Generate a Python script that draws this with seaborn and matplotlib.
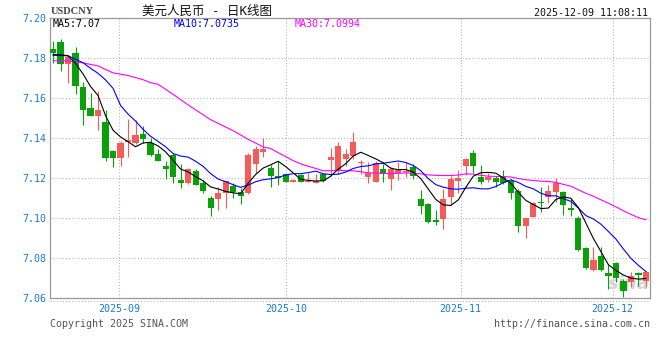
import numpy as np
import pandas as pd
import matplotlib
matplotlib.use("Agg")
import matplotlib.pyplot as plt
import seaborn as sns
from matplotlib.lines import Line2D

# daily USDCNY candles (oldest first)
opens = [7.1847, 7.1880, 7.1773, 7.1827, 7.1657, 7.1552, 7.1513, 7.1482, 7.1338, 7.1303,
         7.1383, 7.1378, 7.1422, 7.1377, 7.1322, 7.1263, 7.1317, 7.1192, 7.1178, 7.1238,
         7.1175, 7.1102, 7.1097, 7.1125, 7.1162, 7.1132, 7.1127, 7.1272, 7.1332, 7.1253,
         7.1212, 7.1220, 7.1183, 7.1217, 7.1183, 7.1178, 7.1222, 7.1292, 7.1243, 7.1298,
         7.1313, 7.1277, 7.1208, 7.1182, 7.1247, 7.1197, 7.1228, 7.1232, 7.1257, 7.1097,
         7.1072, 7.0993, 7.0997, 7.1107, 7.1187, 7.1262, 7.1327, 7.1208, 7.1193, 7.1200,
         7.1208, 7.1188, 7.1138, 7.0960, 7.1008, 7.1083, 7.1105, 7.1130, 7.1133, 7.1052,
         7.1000, 7.0852, 7.0742, 7.0812, 7.0728, 7.0777, 7.0685, 7.0680, 7.0725, 7.0685]
highs = [7.1888, 7.1897, 7.1818, 7.1858, 7.1683, 7.1628, 7.1637, 7.1542, 7.1342, 7.1388,
         7.1497, 7.1492, 7.1462, 7.1400, 7.1347, 7.1287, 7.1325, 7.1272, 7.1253, 7.1245,
         7.1192, 7.1112, 7.1155, 7.1188, 7.1178, 7.1150, 7.1328, 7.1360, 7.1400, 7.1267,
         7.1287, 7.1222, 7.1195, 7.1220, 7.1225, 7.1222, 7.1222, 7.1353, 7.1382, 7.1345,
         7.1432, 7.1292, 7.1282, 7.1285, 7.1270, 7.1258, 7.1283, 7.1280, 7.1272, 7.1142,
         7.1077, 7.1042, 7.1147, 7.1212, 7.1242, 7.1303, 7.1342, 7.1267, 7.1225, 7.1212,
         7.1242, 7.1197, 7.1147, 7.1000, 7.1080, 7.1155, 7.1167, 7.1200, 7.1138, 7.1098,
         7.1012, 7.0855, 7.0857, 7.0855, 7.0772, 7.0780, 7.0697, 7.0730, 7.0730, 7.0735]
lows = [7.1778, 7.1738, 7.1678, 7.1622, 7.1467, 7.1510, 7.1443, 7.1288, 7.1258, 7.1263,
        7.1305, 7.1372, 7.1375, 7.1313, 7.1285, 7.1197, 7.1175, 7.1153, 7.1172, 7.1165,
        7.1127, 7.1013, 7.1042, 7.1050, 7.1103, 7.1073, 7.1120, 7.1225, 7.1308, 7.1158,
        7.1167, 7.1182, 7.1182, 7.1183, 7.1182, 7.1175, 7.1183, 7.1212, 7.1222, 7.1262,
        7.1295, 7.1220, 7.1177, 7.1180, 7.1182, 7.1142, 7.1192, 7.1208, 7.1197, 7.1023,
        7.0975, 7.0967, 7.0945, 7.1067, 7.1125, 7.1215, 7.1228, 7.1172, 7.1182, 7.1158,
        7.1172, 7.1097, 7.0933, 7.0903, 7.1005, 7.1033, 7.1078, 7.1083, 7.1015, 7.1013,
        7.0838, 7.0747, 7.0738, 7.0735, 7.0647, 7.0680, 7.0605, 7.0655, 7.0663, 7.0658]
closes = [7.1827, 7.1770, 7.1807, 7.1663, 7.1543, 7.1513, 7.1543, 7.1303, 7.1300, 7.1375,
          7.1393, 7.1417, 7.1398, 7.1317, 7.1285, 7.1245, 7.1205, 7.1178, 7.1247, 7.1168,
          7.1138, 7.1053, 7.1127, 7.1187, 7.1132, 7.1113, 7.1317, 7.1347, 7.1347, 7.1213,
          7.1202, 7.1183, 7.1192, 7.1183, 7.1188, 7.1187, 7.1187, 7.1307, 7.1362, 7.1322,
          7.1380, 7.1280, 7.1227, 7.1277, 7.1223, 7.1245, 7.1242, 7.1233, 7.1210, 7.1062,
          7.0983, 7.0983, 7.1097, 7.1197, 7.1200, 7.1297, 7.1263, 7.1183, 7.1205, 7.1180,
          7.1178, 7.1125, 7.0963, 7.1000, 7.1078, 7.1077, 7.1138, 7.1178, 7.1065, 7.1042,
          7.0842, 7.0752, 7.0792, 7.0740, 7.0713, 7.0700, 7.0637, 7.0713, 7.0717, 7.0730]

# moving-average values before a full window exists
ma5_head = [7.1815, 7.1815, 7.1812, 7.1775]
ma10_head = [7.1820, 7.1818, 7.1813, 7.1795, 7.1778, 7.1750, 7.1725, 7.1692, 7.1650]
ma30_head_idx = [0, 2, 4, 6, 8, 10, 12, 13, 14, 16, 18, 21, 24, 26, 28]
ma30_head = [7.1788, 7.1787, 7.1777, 7.1762, 7.1727, 7.1714, 7.1693, 7.1678, 7.1670,
             7.1620, 7.1567, 7.1493, 7.1438, 7.1395, 7.1357]

month_labels = ["2025-09", "2025-10", "2025-11", "2025-12"]
month_pos = [8.8, 31.05, 54.3, 74.55]
y_ticks = [7.06, 7.08, 7.10, 7.12, 7.14, 7.16, 7.18, 7.20]

df = pd.DataFrame({"open": opens, "high": highs, "low": lows, "close": closes})
df["idx"] = np.arange(len(df))
df["ma5"] = df["close"].rolling(5).mean()
df.loc[:3, "ma5"] = ma5_head
df["ma10"] = df["close"].rolling(10).mean()
df.loc[:8, "ma10"] = ma10_head
df["ma30"] = df["close"].rolling(30).mean()
df.loc[ma30_head_idx, "ma30"] = ma30_head

sns.set_style("white")
plt.rcParams["font.family"] = ["DejaVu Sans Mono", "Noto Sans CJK SC"]

W, H = 660, 360
RED, GREEN = "#f65a5a", "#0aa00a"
BLUE_TXT = "#1a7bc9"
GRID = "#b4b4b4"

fig = plt.figure(figsize=(W / 100, H / 100), dpi=100)
ax = fig.add_axes([50.5 / W, 1 - 298.3 / H, (649.5 - 50.5) / W, 280 / H])

up = df["close"] >= df["open"]
colors = np.where(up, RED, GREEN)
ax.vlines(df["idx"], df["low"], df["high"], colors=colors, linewidth=0.8, zorder=3)
body_lo = np.minimum(df["open"], df["close"])
body_h = np.maximum((df["close"] - df["open"]).abs(), 0.0004)
ax.bar(df["idx"], body_h, bottom=body_lo, width=0.82, color=colors, linewidth=0, zorder=4)

sns.lineplot(data=df, x="idx", y="ma30", ax=ax, color="#ff00ff", linewidth=0.8,
             estimator=None, sort=False, zorder=5)
sns.lineplot(data=df, x="idx", y="ma10", ax=ax, color="#0000ff", linewidth=0.8,
             estimator=None, sort=False, zorder=6)
sns.lineplot(data=df, x="idx", y="ma5", ax=ax, color="#000000", linewidth=0.8,
             estimator=None, sort=False, zorder=7)

ax.set_xlim(-0.333, 79.47)
ax.set_ylim(7.06, 7.20)
ax.set_xlabel("")
ax.set_ylabel("")

ax.set_yticks(y_ticks)
ax.set_yticklabels([f"{v:.2f}" for v in y_ticks], color=BLUE_TXT, fontsize=7.2)
ax.set_xticks(month_pos)
ax.set_xticklabels(month_labels, color=BLUE_TXT, fontsize=7.2)
ax.tick_params(axis="both", length=0)
ax.tick_params(axis="y", pad=3.2)
ax.tick_params(axis="x", pad=4)

for v in y_ticks[1:-1]:
    ax.axhline(v, color=GRID, linewidth=0.75, linestyle=(0, (1, 2)), zorder=1)
for p in month_pos:
    ax.axvline(p, color=GRID, linewidth=0.75, linestyle=(0, (1, 2)), zorder=1)

for s in ax.spines.values():
    s.set_color("#999999")
    s.set_linewidth(0.9)

# dotted line under the plot frame
fig.add_artist(Line2D([50 / W, 650 / W], [1 - 300.6 / H] * 2, color=GRID,
                      linewidth=0.75, linestyle=(0, (1, 2))))

# watermark
ax.text(0.965, 0.05, "sina", transform=ax.transAxes, ha="center", va="center",
        fontsize=13, fontstyle="italic", fontweight="bold", color="#d4d4d4",
        family="DejaVu Sans", zorder=2)


def ftxt(x, y, s, **kw):
    fig.text(x / W, 1 - y / H, s, va="center", **kw)


ftxt(51, 12, "USDCNY", ha="left", fontsize=7.5, color="#444444",
     family="Liberation Serif", fontweight="bold")
ftxt(207, 11.5, "美元人民币 - 日K线图", ha="center", fontsize=9, color="#111111")
ftxt(648, 12.5, "2025-12-09 11:08:11", ha="right", fontsize=7.2, color="#111111")
ftxt(52.5, 24, "MA5:7.07", ha="left", fontsize=7.2, color="#000000")
ftxt(174, 24, "MA10:7.0735", ha="left", fontsize=7.2, color="#0000ff")
ftxt(295, 24, "MA30:7.0994", ha="left", fontsize=7.2, color="#ff00ff")
ftxt(50, 324, "Copyright 2025 SINA.COM", ha="left", fontsize=7.2, color="#555555")
ftxt(650, 324, "http://finance.sina.com.cn", ha="right", fontsize=7.2, color="#555555")

fig.savefig("out.png", dpi=100)
